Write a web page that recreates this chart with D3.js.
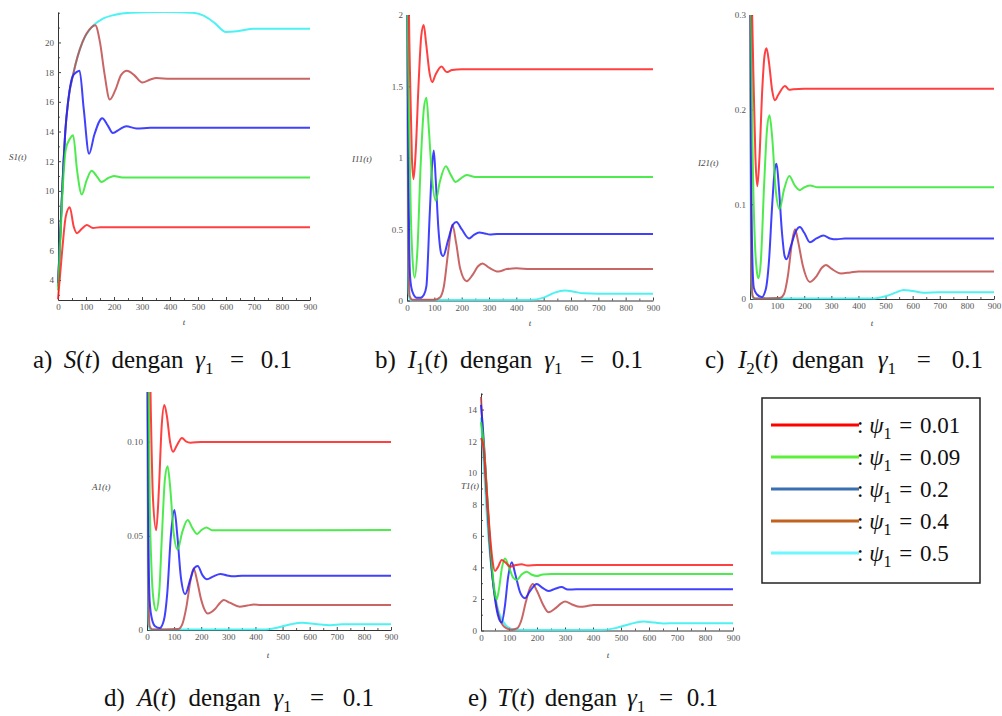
<!DOCTYPE html>
<html>
<head>
<meta charset="utf-8">
<script src="https://cdn.jsdelivr.net/npm/d3@7"></script>
<style>
  body { margin: 0; background: #fff; }
  svg { display: block; }
  .tick text { font-family: "Liberation Serif", serif; font-size: 9px; fill: #555; }
</style>
</head>
<body>
<svg id="chart" width="1002" height="716"></svg>
<script>
// legend entries (psi_1 values) and colours
const psiValues = ["0.01", "0.09", "0.2", "0.4", "0.5"];
const lineColors = ["#ff1e1e", "#2fe82f", "#1e1eff", "#bf4a4a", "#2ff0f0"];
const legendColors = ["#ff0000", "#5cf03a", "#3a6fb2", "#c2621f", "#6ff6ff"];

const xTicks = [0, 100, 200, 300, 400, 500, 600, 700, 800, 900];

// a) S(t): one [t, value] list per psi
const dataS = [
  [[0,2.7],[15,6],[28,8.3],[42,8.9],[56,7.6],[68,7.15],[85,7.45],[103,7.7],[125,7.5],[150,7.55],[900,7.55]],
  [[0,3.3],[8,6.5],[15,9.5],[28,12.8],[42,13.5],[54,13.75],[68,11.4],[85,9.76],[102,10.7],[120,11.35],[138,11],[155,10.6],[178,10.85],[200,11.0],[230,10.9],[900,10.9]],
  [[0,3.8],[8,7],[15,10],[20,12],[26,14],[36,16],[52,17.7],[66,18],[77,18.1],[92,15.5],[111,12.5],[130,13.8],[158,14.9],[178,14.4],[196,13.9],[220,14.15],[244,14.35],[280,14.2],[330,14.25],[900,14.25]],
  [[0,3.6],[8,7],[15,10],[20,12],[26,14],[36,16],[56,18],[87,20],[119,21],[133,21.15],[150,20],[166,17.9],[185,16.15],[205,16.8],[225,17.8],[246,18.1],[272,17.8],[301,17.3],[330,17.5],[351,17.6],[400,17.55],[900,17.55]],
  [[0,3.5],[8,7],[15,10],[20,12],[26,14],[36,16],[56,18],[87,20],[119,21],[160,21.6],[200,21.85],[260,22.0],[380,22.05],[480,22.0],[520,21.8],[560,21.3],[600,20.7],[640,20.75],[700,20.93],[900,20.93]]
];

// b) I1(t)
const dataI1 = [
  [[0,4],[7,2.05],[12,1.5],[18,1.0],[24,0.85],[32,1.05],[42,1.5],[52,1.85],[61,1.93],[70,1.8],[82,1.6],[92,1.53],[104,1.58],[126,1.64],[145,1.6],[165,1.615],[200,1.62],[900,1.62]],
  [[0,4],[3,2.0],[8,1.2],[14,0.6],[20,0.3],[28,0.16],[38,0.35],[50,0.95],[62,1.35],[71,1.42],[80,1.2],[92,0.85],[105,0.7],[120,0.83],[142,0.94],[160,0.88],[178,0.83],[200,0.86],[218,0.88],[250,0.865],[900,0.865]],
  [[0,4],[2,2],[5,1.0],[8,0.4],[12,0.15],[20,0.06],[35,0.02],[50,0.02],[62,0.04],[71,0.1],[83,0.6],[92,0.95],[98,1.05],[105,0.85],[115,0.5],[125,0.33],[132,0.31],[150,0.42],[168,0.53],[181,0.55],[200,0.5],[227,0.435],[245,0.46],[264,0.476],[285,0.47],[303,0.462],[330,0.465],[900,0.465]],
  [[0,4],[2,1.5],[5,0.3],[10,0.03],[20,0.005],[100,0.005],[120,0.02],[135,0.1],[150,0.33],[166,0.53],[180,0.4],[195,0.22],[218,0.135],[240,0.18],[260,0.24],[276,0.26],[300,0.23],[334,0.203],[365,0.22],[401,0.226],[450,0.22],[900,0.22]],
  [[0,4],[1,2],[3,0.5],[6,0.05],[12,0.004],[450,0.004],[500,0.02],[540,0.055],[578,0.07],[610,0.062],[645,0.05],[700,0.048],[900,0.048]]
];

// c) I2(t)
const dataI2 = [
  [[0,0.5],[8,0.3],[14,0.22],[20,0.15],[27,0.119],[35,0.15],[45,0.22],[54,0.258],[61,0.265],[70,0.25],[82,0.22],[92,0.21],[105,0.216],[129,0.225],[145,0.221],[160,0.2215],[200,0.222],[900,0.222]],
  [[0,0.5],[4,0.3],[10,0.15],[18,0.06],[25,0.03],[31,0.022],[40,0.04],[52,0.12],[63,0.18],[72,0.194],[82,0.17],[95,0.115],[109,0.095],[125,0.115],[145,0.13],[165,0.12],[184,0.115],[200,0.118],[221,0.12],[250,0.118],[900,0.118]],
  [[0,0.5],[2,0.3],[5,0.12],[9,0.04],[14,0.012],[25,0.005],[43,0.002],[58,0.01],[70,0.04],[82,0.1],[92,0.138],[98,0.143],[106,0.12],[118,0.07],[128,0.045],[135,0.042],[150,0.055],[170,0.072],[184,0.076],[200,0.07],[221,0.06],[245,0.064],[271,0.067],[295,0.064],[320,0.063],[350,0.064],[900,0.064]],
  [[0,0.5],[2,0.2],[5,0.03],[10,0.003],[20,0.0005],[110,0.001],[125,0.005],[140,0.025],[155,0.06],[166,0.0736],[178,0.06],[195,0.035],[221,0.018],[245,0.024],[265,0.033],[280,0.036],[300,0.032],[336,0.027],[370,0.028],[400,0.029],[900,0.029]],
  [[0,0.5],[1,0.3],[3,0.08],[6,0.01],[12,0.0005],[450,0.0005],[500,0.003],[540,0.007],[566,0.0095],[600,0.0085],[640,0.0065],[700,0.007],[900,0.007]]
];

// d) A(t)
const dataA = [
  [[0,0.3],[8,0.17],[15,0.11],[22,0.07],[34,0.053],[44,0.075],[54,0.108],[64,0.1195],[74,0.113],[85,0.1],[96,0.0947],[110,0.098],[129,0.102],[145,0.1],[160,0.0995],[200,0.0998],[900,0.0998]],
  [[0,0.3],[5,0.15],[10,0.07],[16,0.035],[24,0.016],[34,0.0103],[45,0.02],[55,0.05],[66,0.08],[76,0.087],[86,0.075],[98,0.052],[113,0.0428],[130,0.052],[150,0.0584],[168,0.054],[185,0.051],[200,0.053],[219,0.0545],[240,0.053],[900,0.0531]],
  [[0,0.3],[3,0.12],[6,0.04],[10,0.015],[18,0.006],[30,0.002],[47,0.001],[62,0.005],[75,0.02],[88,0.05],[101,0.0637],[112,0.05],[125,0.028],[141,0.0191],[160,0.027],[175,0.033],[187,0.034],[205,0.029],[221,0.0269],[245,0.0285],[271,0.0297],[295,0.029],[320,0.0285],[350,0.0288],[900,0.0288]],
  [[0,0.3],[2,0.12],[5,0.02],[10,0.002],[20,0.0002],[115,0.0005],[130,0.003],[145,0.012],[160,0.026],[172,0.0327],[185,0.026],[200,0.016],[224,0.0088],[250,0.011],[270,0.0145],[283,0.0159],[305,0.0145],[342,0.0124],[370,0.013],[394,0.0135],[420,0.0133],[900,0.0133]],
  [[0,0.3],[1,0.15],[3,0.03],[6,0.003],[12,0.0002],[430,0.0002],[480,0.0012],[530,0.003],[572,0.0038],[620,0.0032],[676,0.0025],[720,0.003],[900,0.003]]
];

// e) T(t)
const dataT = [
  [[0,12.2],[10,11.5],[20,9],[30,6.5],[40,4.6],[50,3.77],[60,4.0],[74,4.47],[88,4.3],[104,4.05],[125,4.15],[145,4.2],[165,4.12],[200,4.15],[900,4.15]],
  [[0,13.2],[10,11.8],[20,9.2],[30,6.3],[40,3.9],[50,2.3],[56,1.98],[64,2.6],[75,4.0],[86,4.57],[100,4.0],[115,3.35],[128,3.2],[145,3.55],[163,3.73],[180,3.55],[199,3.45],[220,3.55],[250,3.58],[900,3.58]],
  [[0,14.3],[10,12],[20,9],[30,6],[40,3.6],[50,2.0],[60,1.0],[74,0.5],[85,1.5],[97,3.4],[110,4.32],[122,3.6],[140,2.4],[157,2.05],[175,2.5],[199,2.95],[220,2.7],[241,2.5],[265,2.65],[288,2.75],[310,2.6],[340,2.61],[900,2.61]],
  [[0,14.8],[8,12],[20,8.5],[30,5.6],[40,3.5],[55,1.6],[70,0.6],[90,0.15],[110,0.05],[130,0.15],[145,0.7],[160,1.8],[175,2.7],[185,2.95],[200,2.5],[220,1.7],[241,1.16],[265,1.4],[285,1.7],[300,1.83],[325,1.65],[354,1.5],[380,1.55],[402,1.62],[450,1.62],[900,1.62]],
  [[0,13.5],[8,11],[20,7.5],[30,5.2],[40,3.5],[50,2.3],[60,1.4],[75,0.7],[90,0.3],[110,0.1],[150,0.03],[430,0.03],[480,0.15],[530,0.4],[580,0.57],[620,0.5],[652,0.45],[700,0.46],[900,0.46]]
];

// y tick labels for each panel
const yTicksS = [4, 6, 8, 10, 12, 14, 16, 18, 20];
const yTicksI1 = [0, 0.5, 1, 1.5, 2];
const yTicksI2 = [0, 0.1, 0.2, 0.3];
const yTicksA = [0, 0.05, 0.10];
const yTicksT = [0, 2, 4, 6, 8, 10, 12, 14];

const svg = d3.select('#chart');

const panels = [
  { id: 'a', data: dataS, yTicks: yTicksS, yMinor: 1, fmt: d => d, yDomain: [2.65, 22.05],
    x0: 58, x1: 310, yt: 12, yb: 300, ylab: 'S1(t)', ylx: 9, yly: 160, tlx: 184, tly: 325 },
  { id: 'b', data: dataI1, yTicks: yTicksI1, yMinor: 0.25, fmt: d => d, yDomain: [0, 2],
    x0: 407, x1: 653, yt: 15, yb: 300.5, ylab: 'I11(t)', ylx: 352, yly: 162, tlx: 530, tly: 326 },
  { id: 'c', data: dataI2, yTicks: yTicksI2, yMinor: 0.05, fmt: d => d, yDomain: [0, 0.3],
    x0: 750, x1: 994, yt: 15, yb: 299, ylab: 'I21(t)', ylx: 698, yly: 166, tlx: 872, tly: 326 },
  { id: 'd', data: dataA, yTicks: yTicksA, yMinor: 0.025, fmt: d => d === 0 ? '0' : d3.format('.2f')(d), yDomain: [0, 0.1264],
    x0: 147, x1: 391, yt: 392, yb: 630, ylab: 'A1(t)', ylx: 92, yly: 490, tlx: 268, tly: 658 },
  { id: 'e', data: dataT, yTicks: yTicksT, yMinor: 1, fmt: d => d, yDomain: [0, 15.05],
    x0: 481, x1: 733, yt: 393, yb: 630.5, ylab: 'T1(t)', ylx: 461, yly: 489, tlx: 608, tly: 658 }
];

panels.forEach(p => {
  const x = d3.scaleLinear().domain([0, 900]).range([p.x0, p.x1]);
  const y = d3.scaleLinear().domain(p.yDomain).range([p.yb, p.yt]);
  const g = svg.append('g');

  // clip so curves stay inside the view window
  g.append('clipPath').attr('id', 'clip-' + p.id)
    .append('rect')
    .attr('x', p.x0 - 2).attr('y', p.yt)
    .attr('width', p.x1 - p.x0 + 4).attr('height', p.yb - p.yt + 2);

  // minor ticks
  const xMinor = d3.range(50, 900, 100);
  g.append('g')
    .attr('transform', `translate(0, ${p.yb})`)
    .call(d3.axisBottom(x).tickValues(xMinor).tickSize(-2).tickFormat(''))
    .call(a => a.select('.domain').remove())
    .selectAll('line').attr('stroke', '#555');
  const yMinorVals = d3.range(Math.ceil(p.yDomain[0] / p.yMinor) * p.yMinor, p.yDomain[1], p.yMinor)
    .filter(v => !p.yTicks.some(t => Math.abs(t - v) < 1e-9));
  g.append('g')
    .attr('transform', `translate(${p.x0}, 0)`)
    .call(d3.axisLeft(y).tickValues(yMinorVals).tickSize(-2).tickFormat(''))
    .call(a => a.select('.domain').remove())
    .selectAll('line').attr('stroke', '#555');

  // x axis
  g.append('g')
    .attr('transform', `translate(0, ${p.yb})`)
    .call(d3.axisBottom(x).tickValues(xTicks).tickSize(-3).tickPadding(4).tickSizeOuter(0))
    .call(a => a.select('.domain').attr('stroke', '#333'))
    .call(a => a.selectAll('line').attr('stroke', '#444'));

  // y axis
  g.append('g')
    .attr('transform', `translate(${p.x0}, 0)`)
    .call(d3.axisLeft(y).tickValues(p.yTicks).tickFormat(p.fmt).tickSize(-3).tickPadding(4).tickSizeOuter(0))
    .call(a => a.select('.domain').attr('stroke', '#333'))
    .call(a => a.selectAll('line').attr('stroke', '#444'));

  // curves
  const line = d3.line()
    .x(d => x(d[0]))
    .y(d => y(d[1]))
    .curve(d3.curveMonotoneX);
  g.append('g')
    .attr('clip-path', `url(#clip-${p.id})`)
    .selectAll('path')
    .data(p.data.slice().reverse())
    .join('path')
    .attr('d', line)
    .attr('fill', 'none')
    .attr('stroke', (d, i) => lineColors[lineColors.length - 1 - i])
    .attr('stroke-width', 2)
    .attr('stroke-opacity', 0.85);

  // axis labels
  g.append('text')
    .attr('x', p.ylx).attr('y', p.yly)
    .style('font-family', 'Liberation Serif, serif')
    .style('font-style', 'italic')
    .style('font-size', '9px')
    .style('fill', '#444')
    .text(p.ylab);
  g.append('text')
    .attr('x', p.tlx).attr('y', p.tly)
    .style('font-family', 'Liberation Serif, serif')
    .style('font-style', 'italic')
    .style('font-size', '9px')
    .style('fill', '#444')
    .attr('text-anchor', 'middle')
    .text('t');
});

// captions under each panel
const captions = [
  { tag: 'a)', v: 'S', sub: '', x: 33, y: 368, w: 259 },
  { tag: 'b)', v: 'I', sub: '1', x: 375, y: 368, w: 268 },
  { tag: 'c)', v: 'I', sub: '2', x: 705, y: 368, w: 278 },
  { tag: 'd)', v: 'A', sub: '', x: 104, y: 706, w: 270 },
  { tag: 'e)', v: 'T', sub: '', x: 468, y: 706, w: 250 }
];

captions.forEach(c => {
  const t = svg.append('text')
    .attr('x', c.x).attr('y', c.y)
    .style('font-family', 'Liberation Serif, serif')
    .style('font-size', '25px')
    .style('fill', '#111');
  t.append('tspan').text(c.tag);
  t.append('tspan').attr('class', 'gap').text(' ');
  t.append('tspan').style('font-style', 'italic').text(c.v);
  if (c.sub) t.append('tspan').attr('dy', 6).style('font-size', '17px').text(c.sub);
  t.append('tspan').attr('dy', c.sub ? -6 : 0).text('(');
  t.append('tspan').style('font-style', 'italic').text('t');
  t.append('tspan').text(')');
  t.append('tspan').attr('class', 'gap').text(' ');
  t.append('tspan').text('dengan');
  t.append('tspan').attr('class', 'gap').text(' ');
  t.append('tspan').style('font-style', 'italic').text('γ');
  t.append('tspan').attr('dy', 6).style('font-size', '17px').text('1');
  t.append('tspan').attr('dy', -6).attr('class', 'gap wide').text(' ');
  t.append('tspan').text('=');
  t.append('tspan').attr('class', 'gap wide').text(' ');
  t.append('tspan').text('0.1');
  // spread leftover width over the spaces (the "=" gets the wider math spacing)
  const extra = c.w - t.node().getComputedTextLength();
  if (extra > 0) {
    const unit = extra / 7;
    t.selectAll('.gap').attr('dx', function () {
      return this.classList.contains('wide') ? unit * 2 : unit;
    });
  }
});

// legend box
const legend = svg.append('g');
legend.append('rect')
  .attr('x', 762).attr('y', 398)
  .attr('width', 218).attr('height', 185)
  .attr('fill', '#fff')
  .attr('stroke', '#222')
  .attr('stroke-width', 1.5);

const rowY = d3.scalePoint().domain(psiValues).range([425, 553]);
psiValues.forEach((v, i) => {
  legend.append('line')
    .attr('x1', 771).attr('x2', 859)
    .attr('y1', rowY(v)).attr('y2', rowY(v))
    .attr('stroke', legendColors[i])
    .attr('stroke-width', 3);
  const t = legend.append('text')
    .attr('x', 857).attr('y', rowY(v) + 8)
    .style('font-family', 'Liberation Serif, serif')
    .style('font-size', '23px')
    .style('fill', '#111');
  t.append('tspan').text(': ');
  t.append('tspan').style('font-style', 'italic').text('ψ');
  t.append('tspan').attr('dy', 6).style('font-size', '16px').text('1');
  t.append('tspan').attr('dy', -6).attr('dx', 2).text(' = ');
  t.append('tspan').attr('dx', 2).text(v);
});
</script>
</body>
</html>
